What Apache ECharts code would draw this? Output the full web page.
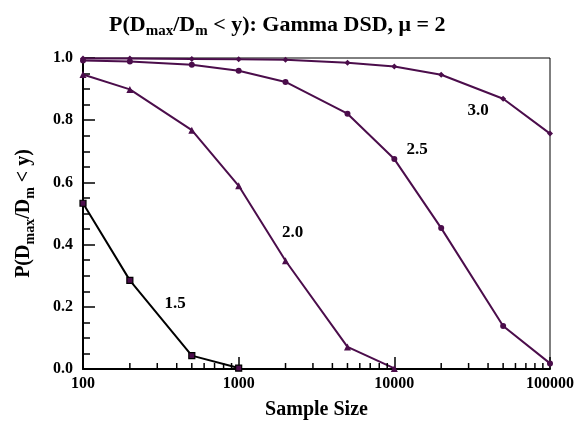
<!DOCTYPE html>
<html>
<head>
<meta charset="utf-8">
<script src="https://cdn.jsdelivr.net/npm/echarts@6/dist/echarts.min.js"></script>
<style>
  html, body { margin: 0; padding: 0; background: #fff; }
  #chart { width: 577px; height: 429px; }
</style>
</head>
<body>
<div id="chart"></div>
<script>
// sample sizes (log axis)
const sampleSizes = [100, 200, 500, 1000, 2000, 5000, 10000, 20000, 50000, 100000];

// P(Dmax/Dm < y) for each y
const p15 = [0.533, 0.285, 0.043, 0.003];
const p20 = [0.947, 0.899, 0.768, 0.589, 0.348, 0.071, 0.002];
const p25 = [0.992, 0.989, 0.978, 0.959, 0.923, 0.821, 0.675, 0.453, 0.138, 0.018];
const p30 = [0.998, 0.998, 0.997, 0.996, 0.994, 0.985, 0.973, 0.946, 0.869, 0.757];

const curveNames = ["1.5", "2.0", "2.5", "3.0"];
const xTickLabels = [100, 1000, 10000, 100000];
const xMinorTicks = [200, 300, 400, 500, 600, 700, 800, 900,
  2000, 3000, 4000, 5000, 6000, 7000, 8000, 9000,
  20000, 30000, 40000, 50000, 60000, 70000, 80000, 90000];

// where the curve labels sit (data coords)
const labelAnchors = [[390, 0.209], [2220, 0.437], [14000, 0.707], [34500, 0.83]];

const purple = "#4b0d4b";
const font = "Liberation Serif";

function pairs(vals) {
  return vals.map((v, i) => [sampleSizes[i], v]);
}

const chart = echarts.init(document.getElementById("chart"));

const lineBase = {
  type: "line",
  lineStyle: { width: 2, color: purple },
  itemStyle: { color: purple },
  symbolSize: 6,
  z: 3
};

const option = {
  animation: false,
  backgroundColor: "#fff",
  title: {
    text: "{n|P(D}{s|max}{n|/D}{s|m}{n| < y): Gamma DSD, μ = 2}",
    left: 104,
    top: 6,
    textStyle: {
      rich: {
        n: { fontFamily: font, fontWeight: "bold", fontSize: 22, color: "#000", lineHeight: 28, verticalAlign: "middle" },
        s: { fontFamily: font, fontWeight: "bold", fontSize: 15, color: "#000", lineHeight: 15, verticalAlign: "bottom", padding: [14, 0, 0, 0] }
      }
    }
  },
  grid: {
    left: 83, right: 26, top: 58, bottom: 60,
    show: true, borderColor: "#000", borderWidth: 1, backgroundColor: "transparent"
  },
  xAxis: {
    type: "log",
    logBase: 10,
    min: 100,
    max: 100000,
    name: "Sample Size",
    nameLocation: "middle",
    nameGap: 31,
    nameTextStyle: { fontFamily: font, fontWeight: "bold", fontSize: 20, color: "#000" },
    axisLine: { lineStyle: { color: "#000", width: 2 } },
    axisTick: { inside: true, length: 12, lineStyle: { color: "#000", width: 1.5 } },
    minorTick: { show: false },
    splitLine: { show: false },
    axisLabel: {
      margin: 7,
      fontFamily: font, fontWeight: "bold", fontSize: 16, color: "#000",
      formatter: v => (xTickLabels.indexOf(Math.round(v)) >= 0 ? String(Math.round(v)) : "")
    }
  },
  yAxis: {
    type: "value",
    min: 0,
    max: 1,
    interval: 0.2,
    name: "{n|P(D}{s|max}{n|/D}{s|m}{n| < y)}",
    nameLocation: "middle",
    nameRotate: 90,
    nameGap: 46,
    nameTextStyle: {
      rich: {
        n: { fontFamily: font, fontWeight: "bold", fontSize: 20, color: "#000", lineHeight: 26, verticalAlign: "middle" },
        s: { fontFamily: font, fontWeight: "bold", fontSize: 14, color: "#000", lineHeight: 14, verticalAlign: "bottom", padding: [13, 0, 0, 0] }
      }
    },
    axisLine: { show: true, lineStyle: { color: "#000", width: 2 } },
    axisTick: { show: true, inside: true, length: 12, lineStyle: { color: "#000", width: 1.5 } },
    minorTick: { show: true, splitNumber: 4, length: 7, lineStyle: { color: "#000", width: 1.5 } },
    splitLine: { show: false },
    axisLabel: {
      margin: 10,
      fontFamily: font, fontWeight: "bold", fontSize: 16, color: "#000",
      formatter: v => v.toFixed(1)
    }
  },
  series: [
    {
      ...lineBase,
      name: curveNames[0],
      data: pairs(p15),
      symbol: "rect",
      symbolSize: 6,
      lineStyle: { width: 2, color: "#000" },
      itemStyle: { color: purple, borderColor: "#000", borderWidth: 1.2 }
    },
    { ...lineBase, name: curveNames[1], data: pairs(p20), symbol: "triangle", symbolSize: 7 },
    { ...lineBase, name: curveNames[2], data: pairs(p25), symbol: "circle", symbolSize: 6 },
    { ...lineBase, name: curveNames[3], data: pairs(p30), symbol: "diamond", symbolSize: 6 },
    {
      // minor ticks of the log axis at 2..9 per decade
      type: "custom",
      silent: true,
      z: 4,
      data: xMinorTicks.map(v => [v, 0]),
      renderItem: (params, api) => {
        const p = api.coord([api.value(0), 0]);
        return {
          type: "line",
          shape: { x1: p[0], y1: p[1], x2: p[0], y2: p[1] - 6 },
          style: { stroke: "#000", lineWidth: 1.5 }
        };
      }
    },
    {
      // curve labels
      type: "scatter",
      silent: true,
      symbolSize: 0,
      itemStyle: { opacity: 1 },
      data: labelAnchors.map((a, i) => ({ value: a, name: curveNames[i] })),
      label: {
        show: true,
        position: "inside",
        formatter: p => p.name,
        fontFamily: font, fontWeight: "bold", fontSize: 17, color: "#000", opacity: 1
      }
    }
  ]
};

chart.setOption(option);
</script>
</body>
</html>
